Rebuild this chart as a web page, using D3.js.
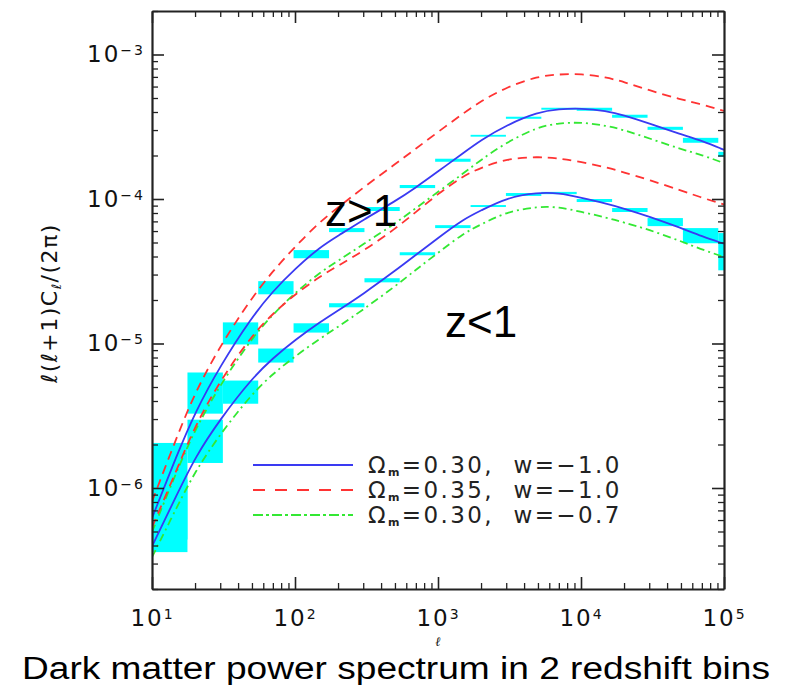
<!DOCTYPE html>
<html>
<head>
<meta charset="utf-8">
<script src="https://d3js.org/d3.v7.min.js"></script>
<style>
  html, body { margin: 0; padding: 0; background: #fff; }
  svg { display: block; }
</style>
</head>
<body>
<div id="box"></div>
<script>
// multipole grid shared by all the curves
var ells = [10, 15, 20, 30, 50, 70, 100, 150, 200, 300, 500, 700, 1000, 1500,
    2000, 3000, 5000, 7000, 10000, 15000, 20000, 30000, 50000, 70000, 100000];

// z>1 bin
var hi_blue = [6.19e-7, 1.71e-6, 3.34e-6, 7.01e-6, 1.53e-5, 2.30e-5, 3.29e-5, 4.66e-5, 5.56e-5, 7.16e-5, 9.64e-5, 1.20e-4, 1.55e-4, 2.08e-4,
    2.56e-4, 3.24e-4, 4.00e-4, 4.19e-4, 4.25e-4, 4.07e-4, 3.80e-4, 3.33e-4, 2.80e-4, 2.53e-4, 2.19e-4];
var hi_red = [8.05e-7, 2.29e-6, 4.58e-6, 9.67e-6, 2.08e-5, 3.17e-5, 4.67e-5, 6.99e-5, 8.73e-5, 1.20e-4, 1.74e-4, 2.23e-4, 2.91e-4, 3.91e-4,
    4.76e-4, 5.93e-4, 7.08e-4, 7.29e-4, 7.35e-4, 6.96e-4, 6.46e-4, 5.66e-4, 4.87e-4, 4.53e-4, 4.07e-4];
var hi_green = [4.95e-7, 1.33e-6, 2.54e-6, 5.19e-6, 1.09e-5, 1.59e-5, 2.24e-5, 3.12e-5, 3.73e-5, 4.87e-5, 6.75e-5, 8.64e-5, 1.12e-4, 1.50e-4,
    1.87e-4, 2.46e-4, 3.16e-4, 3.35e-4, 3.40e-4, 3.22e-4, 3.00e-4, 2.63e-4, 2.21e-4, 2.02e-4, 1.77e-4];

// z<1 bin
var lo_blue = [3.95e-7, 9.08e-7, 1.63e-6, 3.00e-6, 5.74e-6, 7.91e-6, 1.057e-5, 1.41e-5, 1.69e-5, 2.20e-5, 3.18e-5, 4.10e-5, 5.37e-5, 7.23e-5,
    8.32e-5, 1.019e-4, 1.11e-4, 1.10e-4, 1.02e-4, 9.31e-5, 8.59e-5, 7.57e-5, 6.30e-5, 5.52e-5, 4.90e-5];
var lo_red = [5.33e-7, 1.36e-6, 2.69e-6, 5.55e-6, 1.14e-5, 1.61e-5, 2.19e-5, 2.92e-5, 3.45e-5, 4.36e-5, 6.20e-5, 8.12e-5, 1.085e-4, 1.446e-4,
    1.647e-4, 1.895e-4, 1.965e-4, 1.914e-4, 1.805e-4, 1.657e-4, 1.529e-4, 1.355e-4, 1.147e-4, 1.021e-4, 9.16e-5];
var lo_green = [3.32e-7, 7.45e-7, 1.30e-6, 2.37e-6, 4.48e-6, 6.17e-6, 8.14e-6, 1.086e-5, 1.30e-5, 1.72e-5, 2.48e-5, 3.24e-5, 4.24e-5, 5.78e-5,
    6.66e-5, 8.15e-5, 8.88e-5, 8.80e-5, 8.16e-5, 7.45e-5, 6.87e-5, 6.13e-5, 5.10e-5, 4.47e-5, 3.97e-5];

// band-power error boxes, one per multipole bin
var bin_edges = [10, 17.7, 31.3, 55.3, 97.7, 173, 306, 540, 955, 1690, 2985, 5280, 9330, 16500, 29200, 51600, 91200, 161000];
var hi_box_lo = [4.4e-7, 3.27e-6, 9.85e-6, 2.19e-5, 3.89e-5, 5.9e-5, 8.26e-5, 1.19e-4, 1.81e-4, 2.70e-4, 3.59e-4, 4.15e-4, 4.08e-4, 3.65e-4, 3.01e-4, 2.45e-4, 1.96e-4];
var hi_box_hi = [2.05e-6, 6.3e-6, 1.40e-5, 2.70e-5, 4.43e-5, 6.29e-5, 8.8e-5, 1.25e-4, 1.90e-4, 2.78e-4, 3.71e-4, 4.28e-4, 4.28e-4, 3.83e-4, 3.16e-4, 2.65e-4, 2.12e-4];
var lo_box_lo = [3.6e-7, 1.49e-6, 3.83e-6, 7.38e-6, 1.19e-5, 1.78e-5, 2.65e-5, 4.08e-5, 6.29e-5, 8.8e-5, 1.05e-4, 1.08e-4, 9.53e-5, 8.13e-5, 6.49e-5, 4.94e-5, 3.21e-5];
var lo_box_hi = [1.14e-6, 2.97e-6, 5.54e-6, 9.23e-6, 1.38e-5, 1.90e-5, 2.83e-5, 4.28e-5, 6.59e-5, 9.08e-5, 1.10e-4, 1.12e-4, 1.0e-4, 8.66e-5, 7.38e-5, 6.29e-5, 5.81e-5];

var x_ticks = [1e1, 1e2, 1e3, 1e4, 1e5];
var y_ticks = [1e-6, 1e-5, 1e-4, 1e-3];
var legend_labels = [
    ['0.30', '\u22121.0'],
    ['0.35', '\u22121.0'],
    ['0.30', '\u22120.7']
];
var bin_labels = ['z>1', 'z<1'];
var caption = 'Dark matter power spectrum in 2 redshift bins';

var fig = {
    width: 790,
    height: 685,
    margin: {top: 11, right: 66, bottom: 96, left: 152},
    label_font: '"DejaVu Sans", Verdana, sans-serif',
    sans: '"Liberation Sans", Arial, sans-serif',
    styles: [
        {color: '#3a3af2', dash: null},
        {color: '#ff3333', dash: '9,6'},
        {color: '#33e833', dash: '8,4,2,4'}
    ],

    init: function() {
        this.w = this.width - this.margin.left - this.margin.right;
        this.h = this.height - this.margin.top - this.margin.bottom;
        this.svg = d3.select('#box').append('svg')
            .attr('width', this.width)
            .attr('height', this.height)
            .style('background', '#fff');
        this.chart = this.svg.append('g')
            .attr('transform', 'translate(' + this.margin.left + ',' + this.margin.top + ')');
        this.x = d3.scaleLog().domain([10, 1e5]).range([0, this.w]);
        this.y = d3.scaleLog().domain([2e-7, 2e-3]).range([this.h, 0]);
        this.chart.append('clipPath').attr('id', 'plot_clip')
            .append('rect').attr('width', this.w).attr('height', this.h);
    },

    draw: function() {
        this._draw_boxes();
        this._draw_curves();
        this._draw_axes();
        this._draw_legend();
        this._draw_texts();
    },

    _draw_boxes: function() {
        var x = this.x, y = this.y;
        var rows = [];
        for (var i = 0; i < bin_edges.length - 1; i++) {
            rows.push([bin_edges[i], bin_edges[i + 1], hi_box_lo[i], hi_box_hi[i]]);
            rows.push([bin_edges[i], bin_edges[i + 1], lo_box_lo[i], lo_box_hi[i]]);
        }
        this.chart.append('g')
            .attr('clip-path', 'url(#plot_clip)')
            .selectAll('rect')
            .data(rows)
            .enter()
            .append('rect')
            .attr('x', d => x(d[0]))
            .attr('width', d => x(d[1]) - x(d[0]))
            .attr('y', d => y(d[3]))
            .attr('height', d => y(d[2]) - y(d[3]))
            .attr('fill', '#00ffff');
    },

    _draw_curves: function() {
        var x = this.x, y = this.y;
        var line = d3.line()
            .x(d => x(d[0]))
            .y(d => y(d[1]))
            .curve(d3.curveBasis);
        var series = [
            [hi_blue, 0], [hi_red, 1], [hi_green, 2],
            [lo_blue, 0], [lo_red, 1], [lo_green, 2]
        ];
        var styles = this.styles;
        this.chart.append('g')
            .attr('clip-path', 'url(#plot_clip)')
            .selectAll('path')
            .data(series)
            .enter()
            .append('path')
            .attr('d', d => line(ells.map((l, i) => [l, d[0][i]])))
            .attr('fill', 'none')
            .attr('stroke', d => styles[d[1]].color)
            .attr('stroke-width', 1.8)
            .attr('stroke-dasharray', d => styles[d[1]].dash);
    },

    _sup_label: function(sel) {
        // "10" followed by a raised exponent
        sel.each(function(d) {
            var t = d3.select(this);
            var e = Math.round(Math.log10(d));
            t.text(null);
            t.append('tspan').text('10');
            t.append('tspan')
                .attr('font-size', 14)
                .attr('dy', -7)
                .text((e < 0 ? '\u2212' : '') + Math.abs(e));
        });
    },

    _draw_axes: function() {
        var x = this.x, y = this.y, w = this.w, h = this.h;
        var x_minor = [], y_minor = [];
        for (var p = 1; p < 5; p++) {
            for (var k = 2; k < 10; k++) x_minor.push(k * Math.pow(10, p));
        }
        for (var q = -7; q < -2; q++) {
            for (var m = 2; m < 10; m++) {
                var v = m * Math.pow(10, q);
                if (v >= 2e-7 && v <= 2e-3) y_minor.push(v);
            }
        }
        // [axis, majors, minors, transform, labelled, padding]
        var axes = [
            [d3.axisBottom(x), x_ticks, x_minor, 'translate(0,' + h + ')', true, 21],
            [d3.axisTop(x), x_ticks, x_minor, 'translate(0,0)', false, 3],
            [d3.axisLeft(y), y_ticks, y_minor, 'translate(0,0)', true, 7],
            [d3.axisRight(y), y_ticks, y_minor, 'translate(' + w + ',0)', false, 3]
        ];
        var self = this;
        axes.forEach(function(a) {
            var minor = self.chart.append('g')
                .attr('transform', a[3])
                .call(a[0].tickValues(a[2]).tickSize(-6).tickSizeOuter(0).tickFormat(''));
            minor.select('.domain').remove();
            minor.selectAll('line').attr('stroke', '#222').attr('stroke-width', 1.3);

            var major = self.chart.append('g')
                .attr('transform', a[3])
                .call(a[0].tickValues(a[1]).tickSize(-12).tickSizeOuter(0)
                    .tickPadding(a[5]).tickFormat(d => d));
            major.select('.domain').attr('stroke', '#222').attr('stroke-width', 2.2);
            major.selectAll('line').attr('stroke', '#222').attr('stroke-width', 1.6);
            var texts = major.selectAll('text')
                .attr('font-family', self.label_font)
                .attr('font-size', 23)
                .attr('letter-spacing', 2)
                .attr('fill', '#111');
            if (a[4]) {
                self._sup_label(texts);
            } else {
                texts.remove();
            }
        });
    },

    _draw_legend: function() {
        var styles = this.styles;
        var rows = this.chart.append('g')
            .attr('class', 'legend')
            .selectAll('g')
            .data(legend_labels)
            .enter()
            .append('g')
            .attr('transform', (d, i) => 'translate(101,' + (454 + 25 * i) + ')');
        rows.append('line')
            .attr('x1', 0).attr('x2', 100)
            .attr('stroke', (d, i) => styles[i].color)
            .attr('stroke-width', 2)
            .attr('stroke-dasharray', (d, i) => i === 1 ? '12,10' : (i === 2 ? '10,3,3,3' : null));
        var t = rows.append('text')
            .attr('x', 115)
            .attr('y', 8)
            .attr('font-family', this.label_font)
            .attr('font-size', 23)
            .attr('letter-spacing', 2.4)
            .attr('fill', '#222')
            .style('white-space', 'pre');
        t.append('tspan').text('\u03a9');
        t.append('tspan').attr('font-size', 11).attr('font-weight', 'bold')
            .attr('dy', 3).text('m');
        t.append('tspan').attr('dy', -3).text(d => '=' + d[0] + ',  w=' + d[1]);
    },

    _draw_texts: function() {
        var h = this.h;
        // y title
        var yt = this.chart.append('text')
            .attr('transform', 'translate(-95,292) rotate(-90)')
            .attr('text-anchor', 'middle')
            .attr('font-family', this.label_font)
            .attr('font-size', 22)
            .attr('letter-spacing', 1.5)
            .attr('fill', '#111');
        yt.append('tspan').text('\u2113(\u2113+1)C');
        yt.append('tspan').attr('font-size', 13).attr('dy', 4).text('\u2113');
        yt.append('tspan').attr('dy', -4).text('/(2\u03c0)');

        // x title, squeezed between the tick labels and the caption
        this.chart.append('text')
            .attr('x', this.x(1e3))
            .attr('y', h + 57)
            .attr('text-anchor', 'middle')
            .attr('font-family', '"DejaVu Serif", serif')
            .attr('font-style', 'italic')
            .attr('font-size', 13)
            .attr('fill', '#111')
            .text('\u2113');

        // bin labels
        this.chart.selectAll('text.bin')
            .data(bin_labels)
            .enter()
            .append('text')
            .attr('class', 'bin')
            .attr('x', (d, i) => i === 0 ? 173 : 293)
            .attr('y', (d, i) => i === 0 ? 215 : 326)
            .attr('font-family', this.sans)
            .attr('font-size', 44)
            .attr('fill', '#000')
            .text(d => d);

        // caption under the figure
        this.svg.append('text')
            .attr('x', 22)
            .attr('y', 679)
            .attr('font-family', this.sans)
            .attr('font-size', 31)
            .attr('textLength', 748)
            .attr('lengthAdjust', 'spacingAndGlyphs')
            .attr('fill', '#000')
            .text(caption);
    }
};

fig.init();
fig.draw();
</script>
</body>
</html>
